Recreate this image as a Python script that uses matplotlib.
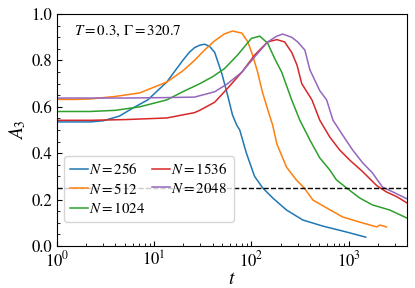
import matplotlib
matplotlib.use("Agg")
import matplotlib.pyplot as plt
from matplotlib.ticker import MultipleLocator

plt.rcParams["font.family"] = "STIXGeneral"
plt.rcParams["mathtext.fontset"] = "stix"

# N = 256
t_256 = [1, 1.5, 2.2, 3.0, 4.4, 6.0, 8.6, 13.5, 19.7, 23, 26, 29.5, 33, 37, 42, 50, 57, 64, 71, 76, 89, 108, 131, 166, 230, 338, 540, 955, 1500]
a_256 = [0.535, 0.535, 0.535, 0.54, 0.56, 0.594, 0.63, 0.707, 0.80, 0.835, 0.855, 0.866, 0.87, 0.862, 0.835, 0.74, 0.65, 0.565, 0.52, 0.50, 0.40, 0.30, 0.25, 0.207, 0.155, 0.112, 0.086, 0.06, 0.038]

# N = 512
t_512 = [1, 1.5, 2.2, 4, 7.1, 13.5, 19.7, 26, 33, 42, 53, 64, 80, 92, 103, 116, 130, 147, 166, 183, 230, 290, 350, 430, 595, 870, 1300, 1950, 2100, 2300, 2450]
a_512 = [0.632, 0.632, 0.634, 0.645, 0.66, 0.707, 0.755, 0.80, 0.845, 0.885, 0.915, 0.927, 0.918, 0.88, 0.823, 0.75, 0.664, 0.59, 0.52, 0.44, 0.34, 0.285, 0.25, 0.198, 0.164, 0.125, 0.103, 0.082, 0.09, 0.086, 0.082]

# N = 1024
t_1024 = [1, 1.5, 2.2, 4, 7.1, 13.5, 19.7, 29.5, 40, 53, 72, 100, 122, 147, 173, 205, 260, 315, 400, 505, 640, 750, 955, 1300, 1760, 2650, 4000]
a_1024 = [0.58, 0.58, 0.58, 0.585, 0.60, 0.63, 0.665, 0.70, 0.73, 0.765, 0.823, 0.895, 0.905, 0.875, 0.81, 0.75, 0.63, 0.543, 0.457, 0.38, 0.328, 0.285, 0.25, 0.207, 0.177, 0.155, 0.12]

# N = 1536
t_1536 = [1, 2.2, 5, 13.5, 26, 29.5, 42, 57, 80, 108, 147, 183, 220, 260, 295, 330, 420, 505, 640, 810, 1030, 1400, 1950, 2450, 3150, 4000]
a_1536 = [0.542, 0.542, 0.545, 0.552, 0.575, 0.585, 0.62, 0.68, 0.75, 0.823, 0.88, 0.89, 0.88, 0.835, 0.78, 0.70, 0.63, 0.543, 0.47, 0.414, 0.37, 0.32, 0.26, 0.233, 0.212, 0.185]

# N = 2048
t_2048 = [1, 2.2, 5, 13.5, 26, 42, 57, 80, 108, 147, 183, 210, 260, 300, 355, 400, 505, 595, 690, 870, 1100, 1400, 1760, 2230, 2850, 4000]
a_2048 = [0.638, 0.638, 0.638, 0.64, 0.642, 0.665, 0.70, 0.75, 0.815, 0.88, 0.905, 0.914, 0.90, 0.88, 0.845, 0.76, 0.67, 0.63, 0.543, 0.478, 0.414, 0.358, 0.315, 0.254, 0.233, 0.203]

series = [
    (t_256, a_256, r"$N = 256$"),
    (t_512, a_512, r"$N = 512$"),
    (t_1024, a_1024, r"$N = 1024$"),
    (t_1536, a_1536, r"$N = 1536$"),
    (t_2048, a_2048, r"$N = 2048$"),
]

fig = plt.figure(figsize=(4.15, 2.88), dpi=100)
ax = fig.add_axes([0.137, 0.146, 0.844, 0.805])

for t, a, lab in series:
    ax.plot(t, a, lw=1.1, label=lab)

ax.axhline(0.25, color="black", ls="--", lw=1.0)

ax.set_xscale("log")
ax.set_xlim(1, 4000)
ax.set_ylim(0, 1.0)
ax.set_yticks([0, 0.2, 0.4, 0.6, 0.8, 1.0])
ax.yaxis.set_minor_locator(MultipleLocator(0.05))
ax.tick_params(which="both", direction="in", labelsize=12)
ax.set_xlabel(r"$t$", fontsize=14, labelpad=0)
ax.set_ylabel(r"$A_3$", fontsize=14, labelpad=2)

ax.text(0.05, 0.91, r"$T = 0.3$, $\Gamma = 320.7$", transform=ax.transAxes,
        fontsize=10.8, va="baseline")

ax.legend(loc="lower left", bbox_to_anchor=(0.02, 0.103), ncol=2, fontsize=10.8,
          handlelength=1.2, handletextpad=0.1, columnspacing=0.4,
          labelspacing=0.3, borderpad=0.4, borderaxespad=0)

fig.savefig("out.png", dpi=100)
